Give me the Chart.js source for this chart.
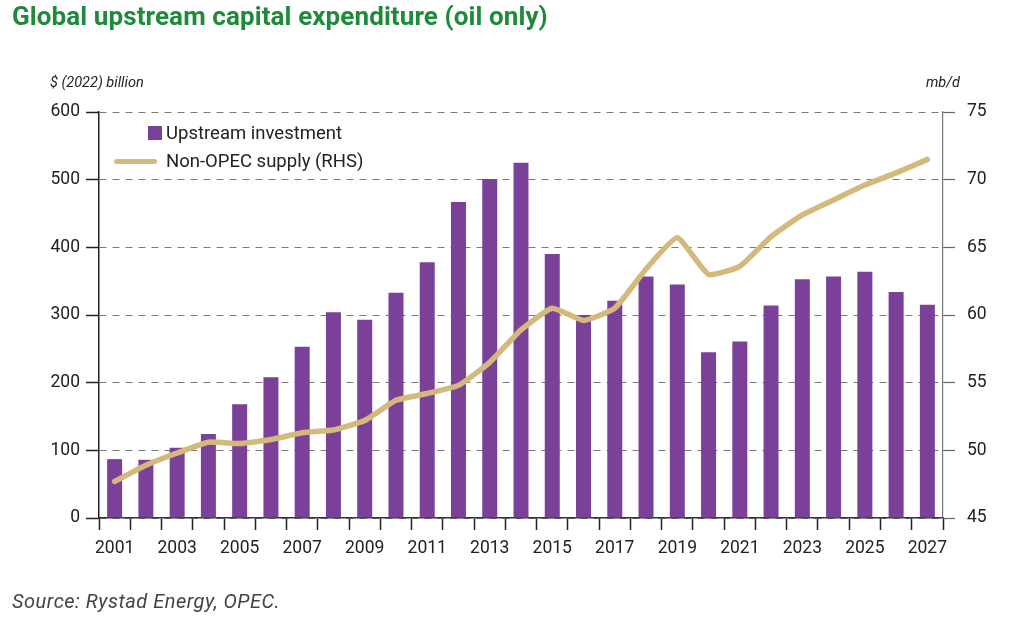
<!DOCTYPE html>
<html>
<head>
<meta charset="utf-8">
<script src="https://cdn.jsdelivr.net/npm/chart.js@4/dist/chart.umd.min.js"></script>
<style>
  html, body { margin: 0; padding: 0; background: #fff; }
  body { width: 1010px; height: 623px; position: relative; overflow: hidden; font-family: Roboto, "Noto Sans", sans-serif; }
  #wrap { position: absolute; left: 0; top: 0; width: 1010px; height: 623px; }
  .title { position: absolute; left: 12px; top: 1px; font-size: 26px; font-weight: bold; color: #1e8a3c; white-space: nowrap; letter-spacing: 0.1px; }
  .unit { position: absolute; top: 74px; font-size: 14.5px; font-style: italic; color: #222; white-space: nowrap; }
  .source { position: absolute; left: 12px; top: 589px; font-size: 20px; font-style: italic; color: #444; white-space: nowrap; letter-spacing: 0.5px; }
  .legend { position: absolute; left: 112px; top: 121px; font-size: 18.5px; color: #222; }
  .legend .row { position: relative; height: 28px; line-height: 24px; padding-left: 54px; white-space: nowrap; }
  .sw-bar { position: absolute; left: 36px; top: 5px; width: 14px; height: 14px; }
  .sw-line { position: absolute; left: 2px; top: 10px; width: 43px; height: 5px; border-radius: 3px; }
</style>
</head>
<body>
<div id="wrap"><canvas id="c" width="1010" height="623"></canvas></div>
<div class="title">Global upstream capital expenditure (oil only)</div>
<div class="unit" style="left:50px;">$ (2022) billion</div>
<div class="unit" style="left:926px;">mb/d</div>
<div class="legend">
  <div class="row"><span class="sw-bar" id="swBar"></span>Upstream investment</div>
  <div class="row"><span class="sw-line" id="swLine"></span>Non-OPEC supply (RHS)</div>
</div>
<div class="source">Source: Rystad Energy, OPEC.</div>
<script>
const years = ["2001","2002","2003","2004","2005","2006","2007","2008","2009","2010","2011","2012","2013","2014","2015","2016","2017","2018","2019","2020","2021","2022","2023","2024","2025","2026","2027"];
const upstreamInvestment = [87,86,104,124,168,208,253,304,293,333,378,467,501,525,390,300,321,357,345,245,261,314,353,357,364,334,315];
const nonOpecSupply = [47.7,48.9,49.8,50.6,50.5,50.8,51.3,51.5,52.2,53.7,54.2,54.8,56.5,58.9,60.5,59.6,60.5,63.4,65.7,63.0,63.6,65.8,67.4,68.5,69.6,70.5,71.5];
const leftTicks = [0,100,200,300,400,500,600];
const rightTicks = [45,50,55,60,65,70,75];

const barColor = '#7b4199';
const lineColor = '#d3b97b';
document.getElementById('swBar').style.background = barColor;
document.getElementById('swLine').style.background = lineColor;

const tickFont = { family: 'Roboto, "Noto Sans", sans-serif', size: 17.5 };

new Chart(document.getElementById('c'), {
  data: {
    labels: years,
    datasets: [
      {
        type: 'line',
        label: 'Non-OPEC supply (RHS)',
        data: nonOpecSupply,
        yAxisID: 'y1',
        borderColor: lineColor,
        backgroundColor: lineColor,
        borderWidth: 5.5,
        pointRadius: 0,
        tension: 0.15,
        borderCapStyle: 'round',
        borderJoinStyle: 'round',
        order: 0
      },
      {
        type: 'bar',
        label: 'Upstream investment',
        data: upstreamInvestment,
        yAxisID: 'y',
        backgroundColor: barColor,
        barPercentage: 0.48,
        categoryPercentage: 1.0,
        order: 1
      }
    ]
  },
  options: {
    responsive: false,
    animation: false,
    devicePixelRatio: 1,
    layout: { padding: { top: 112, left: 0, right: 0, bottom: 0 } },
    plugins: { legend: { display: false }, tooltip: { enabled: false } },
    scales: {
      x: {
        type: 'category',
        offset: true,
        grid: { display: true, drawOnChartArea: false, offset: true, tickLength: 12, tickColor: '#222', tickWidth: 1.5 },
        border: { display: true, color: '#333', width: 1.5 },
        ticks: {
          autoSkip: false, maxRotation: 0, minRotation: 0, padding: 8,
          color: '#222', font: tickFont,
          callback: function(v, i) { const y = parseInt(years[i], 10); return (y % 2 === 1) ? years[i] : ''; }
        },
        afterFit: function(s) { s.height = 105; }
      },
      y: {
        position: 'left',
        min: 0, max: 600,
        afterBuildTicks: function(s) { s.ticks = leftTicks.map(v => ({ value: v })); },
        grid: {
          color: '#7a7a7a', lineWidth: 1, tickLength: 13, tickColor: '#222', tickWidth: 1.5,
          tickBorderDash: []
        },
        border: { display: true, color: '#222', width: 1.5, dash: [7, 6] },
        ticks: { color: '#222', font: tickFont, padding: 6 },
        afterFit: function(s) { s.width = 99; }
      },
      y1: {
        position: 'right',
        min: 45, max: 75,
        afterBuildTicks: function(s) { s.ticks = rightTicks.map(v => ({ value: v })); },
        grid: { drawOnChartArea: false, tickLength: 12, tickColor: '#666', tickWidth: 1.2 },
        border: { display: true, color: '#777', width: 1.2 },
        ticks: { color: '#222', font: tickFont, padding: 12 },
        afterFit: function(s) { s.width = 67; }
      }
    }
  }
});
</script>
</body>
</html>
